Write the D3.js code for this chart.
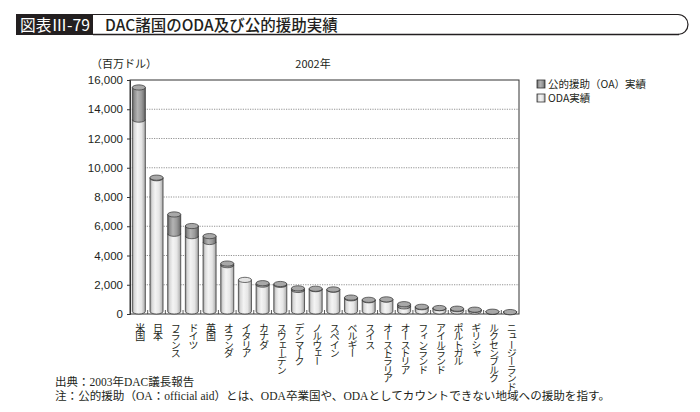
<!DOCTYPE html>
<html><head><meta charset="utf-8">
<script src="https://cdn.jsdelivr.net/npm/d3@7"></script>
<style>
html,body{margin:0;padding:0;background:#fff;}
svg{display:block;}
text{font-family:"Liberation Sans","Noto Sans CJK JP",sans-serif;}
.jp{font-family:"Noto Sans CJK JP",sans-serif;}
.serif{font-family:"Liberation Serif","Noto Sans CJK JP",serif;}
</style></head>
<body>
<script>
const countries = ["米国","日本","フランス","ドイツ","英国","オランダ","イタリア","カナダ","スウェーデン","デンマーク","ノルウェー","スペイン","ベルギー","スイス","オーストラリア","オーストリア","フィンランド","アイルランド","ポルトガル","ギリシャ","ルクセンブルク","ニュージーランド"];
const odaValues = [13290, 9283, 5486, 5324, 4924, 3338, 2332, 2006, 1991, 1643, 1696, 1660, 1072, 939, 989, 520, 462, 398, 323, 276, 147, 122];
const oaValues  = [2200, 40, 1320, 690, 400, 110, 0, 100, 60, 110, 30, 20, 50, 30, 10, 150, 30, 10, 40, 20, 10, 10];
const yTicks = [0, 2000, 4000, 6000, 8000, 10000, 12000, 14000, 16000];
const seriesNames = ["公的援助（OA）実績", "ODA実績"];

(function(){
const W = 700, H = 412;
const svg = d3.select("body").append("svg").attr("width", W).attr("height", H);
const defs = svg.append("defs");

function grad(id, stops){
  const g = defs.append("linearGradient").attr("id", id).attr("x1","0").attr("x2","1").attr("y1","0").attr("y2","0");
  stops.forEach(s => g.append("stop").attr("offset", s[0]).attr("stop-color", s[1]));
}
grad("gLight", [[0,"#8a8a8a"],[0.15,"#d8d8d8"],[0.4,"#f4f4f4"],[0.7,"#e6e6e6"],[0.9,"#bdbdbd"],[1,"#8a8a8a"]]);
grad("gDark",  [[0,"#555"],[0.15,"#8d8d8d"],[0.4,"#b4b4b4"],[0.7,"#9a9a9a"],[0.9,"#777"],[1,"#4a4a4a"]]);

// Header
svg.append("rect").attr("x",16).attr("y",14).attr("width",77).attr("height",21).attr("fill","#231f20");
svg.append("text").attr("class","jp").attr("x",20).attr("y",31).attr("fill","#fff").attr("font-size",16)
  .attr("textLength",70).attr("lengthAdjust","spacingAndGlyphs").text("図表Ⅲ-79");
svg.append("path").attr("d","M93,14.5 H678 A10,10 0 0 1 678,34.5 H93").attr("fill","none").attr("stroke","#231f20").attr("stroke-width",1.2);
svg.append("line").attr("x1",93).attr("x2",679).attr("y1",34.5).attr("y2",34.5).attr("stroke","#231f20").attr("stroke-width",1.6);
svg.append("text").attr("class","jp").attr("x",105).attr("y",31).attr("font-size",15.5).attr("font-weight",500).attr("fill","#231f20").text("DAC諸国のODA及び公的援助実績");

// Plot
const pL = 130, pR = 519, pT = 80, pB = 314;
const x = d3.scaleBand().domain(countries).range([pL, pR]).paddingInner(0.26).paddingOuter(0.13);
const y = d3.scaleLinear().domain([0, 16000]).range([pB, pT]);

// gridlines
svg.append("g").selectAll("line").data(yTicks.filter(t => t > 0 && t < 16000)).join("line")
  .attr("x1", pL).attr("x2", pR).attr("y1", d => y(d)).attr("y2", d => y(d))
  .attr("stroke","#666").attr("stroke-width",0.7).attr("stroke-dasharray","1.2,1.2");

// frame
svg.append("rect").attr("x",pL).attr("y",pT).attr("width",pR-pL).attr("height",pB-pT)
  .attr("fill","none").attr("stroke","#333").attr("stroke-width",1);

// y axis
const yAxis = d3.axisLeft(y).tickValues(yTicks).tickSize(3).tickPadding(4).tickFormat(d3.format(","));
const gy = svg.append("g").attr("transform",`translate(${pL},0)`).call(yAxis);
gy.select(".domain").attr("stroke","#333");
gy.selectAll("line").attr("stroke","#333");
gy.selectAll("text").attr("font-size",11.5).attr("fill","#231f20").attr("font-family","Liberation Sans, sans-serif");

// x ticks at band boundaries (inward)
const bounds = d3.range(countries.length + 1).map(i => pL + i * (pR - pL) / countries.length);
svg.append("g").selectAll("line").data(bounds.slice(1, -1)).join("line")
  .attr("x1", d => d).attr("x2", d => d).attr("y1", pB).attr("y2", pB - 4)
  .attr("stroke","#333").attr("stroke-width",0.8);

// cylinders
const ry = 2.6;
function cyl(g, cx, w, y0, y1, fillGrad, capFill){
  const rx = w / 2;
  g.append("path")
    .attr("d", `M${cx-rx},${y1} L${cx-rx},${y0} A${rx},${ry} 0 0 0 ${cx+rx},${y0} L${cx+rx},${y1} Z`)
    .attr("fill", `url(#${fillGrad})`).attr("stroke","#333").attr("stroke-width",0.7);
  if (capFill) {
    g.append("ellipse").attr("cx",cx).attr("cy",y1).attr("rx",rx).attr("ry",ry)
      .attr("fill",capFill).attr("stroke","#333").attr("stroke-width",0.7);
  }
}
const bars = svg.append("g");
countries.forEach((c, i) => {
  const cx = x(c) + x.bandwidth() / 2;
  const w = x.bandwidth();
  const yO = y(odaValues[i]);
  const yT = y(odaValues[i] + oaValues[i]);
  const g = bars.append("g");
  cyl(g, cx, w, y(0) - ry, yO, "gLight", oaValues[i] > 0 ? null : "#e4e4e4");
  if (oaValues[i] > 0) {
    cyl(g, cx, w, yO, yT, "gDark", "#a8a8a8");
  }
});

// x labels vertical
svg.append("g").selectAll("text").data(countries).join("text")
  .attr("class","jp")
  .attr("x", d => x(d) + x.bandwidth() / 2 + 1.5)
  .attr("y", 323)
  .attr("writing-mode","vertical-rl")
  .attr("font-size",10)
  .attr("letter-spacing",-1.6)
  .attr("fill","#231f20")
  .text(d => d);

// unit + year
svg.append("text").attr("class","jp").attr("x",91).attr("y",68).attr("font-size",11).attr("fill","#231f20").text("（百万ドル）");
svg.append("text").attr("class","jp").attr("x",313).attr("y",68).attr("text-anchor","middle").attr("font-size",11).attr("fill","#231f20").text("2002年");

// legend
const lg = svg.append("g").attr("transform","translate(537,80)");
const lgFill = ["url(#gDark)", "url(#gLight)"];
seriesNames.forEach((s, i) => {
  lg.append("rect").attr("x",0).attr("y", i * 14).attr("width",8).attr("height",8)
    .attr("fill", lgFill[i]).attr("stroke","#333").attr("stroke-width",0.8);
  lg.append("text").attr("class","jp").attr("x",11).attr("y", i * 14 + 8).attr("font-size",10.5).attr("fill","#231f20").text(s);
});

// footnotes
svg.append("text").attr("class","serif").attr("x",55).attr("y",386).attr("font-size",11.5).attr("fill","#231f20").text("出典：2003年DAC議長報告");
svg.append("text").attr("class","serif").attr("x",55).attr("y",400).attr("font-size",11.5).attr("fill","#231f20")
  .attr("textLength",555).attr("lengthAdjust","spacingAndGlyphs")
  .text("注：公的援助（OA：official aid）とは、ODA卒業国や、ODAとしてカウントできない地域への援助を指す。");
})();
</script>
</body></html>
